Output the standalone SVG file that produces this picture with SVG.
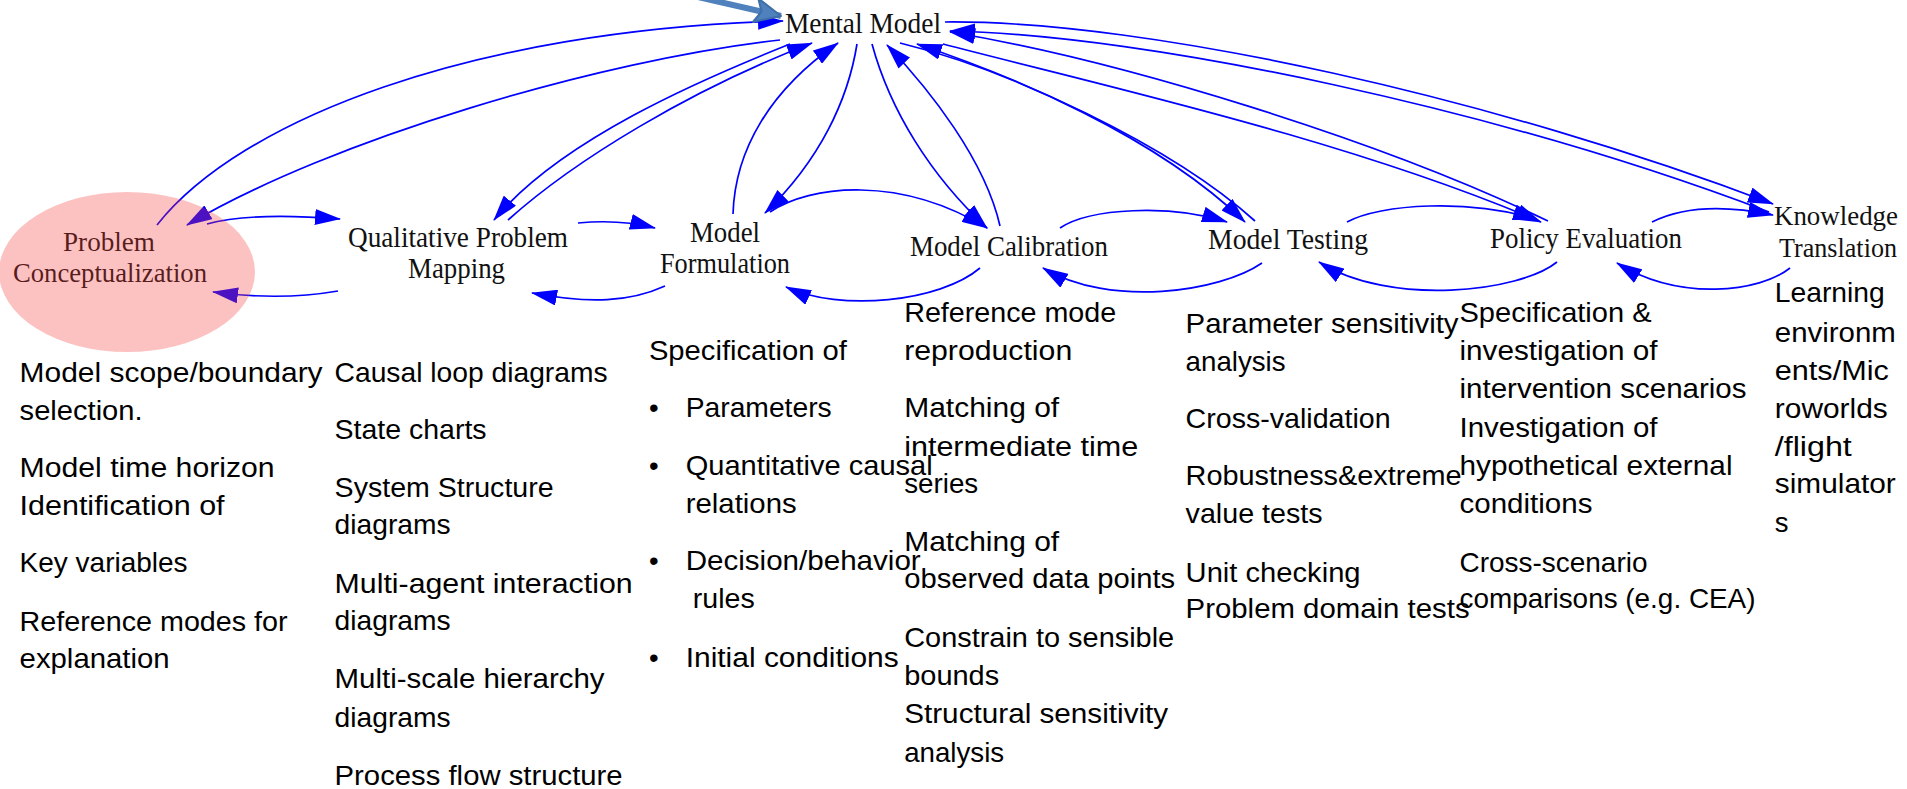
<svg xmlns="http://www.w3.org/2000/svg" width="1907" height="789" viewBox="0 0 1907 789">
  <style>
    .lbl { font-family: "Liberation Serif", "Times New Roman", serif; font-size: 30px; fill: #111; }
    .note { font-family: "Liberation Sans", Arial, sans-serif; font-size: 27.5px; fill: #000; }
    .link { fill: none; stroke: #0000FF; stroke-width: 1.7; marker-end: url(#ah); }
  </style>
  <defs>
    <marker id="ah" viewBox="0 0 26 16" refX="25" refY="8" markerWidth="26" markerHeight="16" orient="auto" markerUnits="userSpaceOnUse">
      <path d="M0,0 L26,8 L0,16 z" fill="#0000FF"/>
    </marker>
    <marker id="ptr" viewBox="0 0 30 28" refX="28" refY="14" markerWidth="30" markerHeight="28" orient="auto" markerUnits="userSpaceOnUse">
      <path d="M2,2 L28,14 L2,26 L8,14 z" fill="#4F81BD" stroke="#3F6FA8" stroke-width="2" stroke-linejoin="round"/>
    </marker>
  </defs>
  <rect width="1907" height="789" fill="#FFFFFF"/>

  <!-- links between the stages and the mental model -->
  <g id="connectors">
    <!-- Problem Conceptualization <-> Mental Model -->
    <path class="link" d="M157,225 C 240,120 470,30 783,21"/>
    <path class="link" d="M780,40 C 600,60 330,140 187,225"/>
    <!-- Qualitative Problem Mapping <-> Mental Model -->
    <path class="link" d="M790,44 C 700,80 560,140 494,220"/>
    <path class="link" d="M508,220 C 575,160 690,90 812,43"/>
    <!-- Model Formulation <-> Mental Model -->
    <path class="link" d="M857,44 C 848,100 820,160 765,213"/>
    <path class="link" d="M733,214 C 735,150 770,90 838,43"/>
    <!-- Model Calibration <-> Mental Model -->
    <path class="link" d="M872,44 C 890,110 930,175 987,228"/>
    <path class="link" d="M1000,226 C 985,160 930,90 887,45"/>
    <!-- Model Testing <-> Mental Model -->
    <path class="link" d="M900,43 C 1010,70 1160,140 1245,222"/>
    <path class="link" d="M1255,221 C 1165,140 1010,75 917,44"/>
    <!-- Policy Evaluation <-> Mental Model -->
    <path class="link" d="M943,44 C 1100,85 1350,140 1541,222"/>
    <path class="link" d="M1548,221 C 1380,140 1120,60 950,32"/>
    <!-- Knowledge Translation <-> Mental Model -->
    <path class="link" d="M945,22 C 1150,20 1500,100 1773,204"/>
    <path class="link" d="M1769,212 C 1500,110 1150,35 950,31"/>
    <!-- forward and backward links along the chain -->
    <path class="link" d="M207,224 Q 250,212 340,219"/>
    <path class="link" d="M338,291 Q 280,301 213,292"/>
    <path class="link" d="M578,223 Q 620,219 655,228"/>
    <path class="link" d="M665,286 C 630,302 590,304 532,293"/>
    <path class="link" d="M770,212 C 810,185 900,175 987,228"/>
    <path class="link" d="M980,268 C 940,302 840,312 786,287"/>
    <path class="link" d="M1060,228 C 1090,208 1170,204 1227,222"/>
    <path class="link" d="M1262,263 C 1220,292 1110,308 1043,268"/>
    <path class="link" d="M1347,222 C 1380,204 1470,198 1538,220"/>
    <path class="link" d="M1557,262 C 1520,292 1390,307 1319,262"/>
    <path class="link" d="M1652,222 C 1680,208 1720,204 1773,215"/>
    <path class="link" d="M1790,268 C 1760,292 1680,302 1617,263"/>
  </g>

  <g id="mental-model">
    <text class="lbl" x="785" y="33" textLength="156" lengthAdjust="spacingAndGlyphs">Mental Model</text>
  </g>
  <g id="qualitative-problem-mapping">
    <text class="lbl" x="348" y="247" textLength="220" lengthAdjust="spacingAndGlyphs">Qualitative Problem</text>
    <text class="lbl" x="408" y="278" textLength="97" lengthAdjust="spacingAndGlyphs">Mapping</text>
  </g>
  <g id="model-formulation">
    <text class="lbl" x="690" y="242" textLength="70" lengthAdjust="spacingAndGlyphs">Model</text>
    <text class="lbl" x="660" y="273" textLength="130" lengthAdjust="spacingAndGlyphs">Formulation</text>
  </g>
  <g id="model-calibration">
    <text class="lbl" x="910" y="256" textLength="198" lengthAdjust="spacingAndGlyphs">Model Calibration</text>
  </g>
  <g id="model-testing">
    <text class="lbl" x="1208" y="249" textLength="160" lengthAdjust="spacingAndGlyphs">Model Testing</text>
  </g>
  <g id="policy-evaluation">
    <text class="lbl" x="1490" y="248" textLength="192" lengthAdjust="spacingAndGlyphs">Policy Evaluation</text>
  </g>
  <g id="knowledge-translation">
    <text class="lbl" x="1774" y="225" style="font-size:27.5px" textLength="124" lengthAdjust="spacingAndGlyphs">Knowledge</text>
    <text class="lbl" x="1779" y="257" style="font-size:27.5px" textLength="118" lengthAdjust="spacingAndGlyphs">Translation</text>
  </g>
  <!-- translucent highlight laid over the label and the arrow ends -->
  <g id="problem-conceptualization">
    <text class="lbl" x="63" y="251" style="font-size:27.5px" textLength="92" lengthAdjust="spacingAndGlyphs">Problem</text>
    <text class="lbl" x="13" y="282" style="font-size:27.5px" textLength="194" lengthAdjust="spacingAndGlyphs">Conceptualization</text>
    <ellipse cx="127" cy="272" rx="128" ry="80" fill="#F53A3A" fill-opacity="0.31"/>
  </g>

  <!-- call-out pointer into the mental model -->
  <g id="pointer">
    <path d="M676,-8 L781,16" fill="none" stroke="#4F81BD" stroke-width="6" marker-end="url(#ptr)"/>
  </g>

  <!-- activities listed under each stage -->
  <g id="notes-conceptualization" class="note">
    <text x="19.6" y="381.7" textLength="303" lengthAdjust="spacingAndGlyphs">Model scope/boundary</text>
    <text x="19.6" y="420" textLength="123" lengthAdjust="spacingAndGlyphs">selection.</text>
    <text x="19.6" y="477.3" textLength="255" lengthAdjust="spacingAndGlyphs">Model time horizon</text>
    <text x="19.6" y="515" textLength="205" lengthAdjust="spacingAndGlyphs">Identification of</text>
    <text x="19.6" y="572.3" textLength="168" lengthAdjust="spacingAndGlyphs">Key variables</text>
    <text x="19.6" y="630.5" textLength="268" lengthAdjust="spacingAndGlyphs">Reference modes for</text>
    <text x="19.6" y="668.3" textLength="150" lengthAdjust="spacingAndGlyphs">explanation</text>
  </g>
  <g id="notes-mapping" class="note">
    <text x="334.6" y="381.7" textLength="273" lengthAdjust="spacingAndGlyphs">Causal loop diagrams</text>
    <text x="334.6" y="439" textLength="152" lengthAdjust="spacingAndGlyphs">State charts</text>
    <text x="334.6" y="496.7" textLength="219" lengthAdjust="spacingAndGlyphs">System Structure</text>
    <text x="334.6" y="534.3" textLength="116" lengthAdjust="spacingAndGlyphs">diagrams</text>
    <text x="334.6" y="592.7" textLength="298" lengthAdjust="spacingAndGlyphs">Multi-agent interaction</text>
    <text x="334.6" y="630" textLength="116" lengthAdjust="spacingAndGlyphs">diagrams</text>
    <text x="334.6" y="688.3" textLength="270" lengthAdjust="spacingAndGlyphs">Multi-scale hierarchy</text>
    <text x="334.6" y="726.7" textLength="116" lengthAdjust="spacingAndGlyphs">diagrams</text>
    <text x="334.6" y="785" textLength="288" lengthAdjust="spacingAndGlyphs">Process flow structure</text>
  </g>
  <g id="notes-formulation" class="note">
    <text x="648.9" y="360" textLength="198" lengthAdjust="spacingAndGlyphs">Specification of</text>
    <text x="649" y="417.3">•</text>
    <text x="685.7" y="417.3" textLength="146" lengthAdjust="spacingAndGlyphs">Parameters</text>
    <text x="649" y="475">•</text>
    <text x="685.7" y="475" textLength="247" lengthAdjust="spacingAndGlyphs">Quantitative causal</text>
    <text x="685.7" y="512.7" textLength="111" lengthAdjust="spacingAndGlyphs">relations</text>
    <text x="649" y="570">•</text>
    <text x="685.7" y="570" textLength="235" lengthAdjust="spacingAndGlyphs">Decision/behavior</text>
    <text x="692.8" y="608.3" textLength="62" lengthAdjust="spacingAndGlyphs">rules</text>
    <text x="649" y="666.7">•</text>
    <text x="685.7" y="666.7" textLength="213" lengthAdjust="spacingAndGlyphs">Initial conditions</text>
  </g>
  <g id="notes-calibration" class="note">
    <text x="904.2" y="321.7" textLength="212" lengthAdjust="spacingAndGlyphs">Reference mode</text>
    <text x="904.2" y="360" textLength="168" lengthAdjust="spacingAndGlyphs">reproduction</text>
    <text x="904.2" y="417.3" textLength="155" lengthAdjust="spacingAndGlyphs">Matching of</text>
    <text x="904.2" y="455.7" textLength="234" lengthAdjust="spacingAndGlyphs">intermediate time</text>
    <text x="904.2" y="493.3" textLength="74" lengthAdjust="spacingAndGlyphs">series</text>
    <text x="904.2" y="550.7" textLength="155" lengthAdjust="spacingAndGlyphs">Matching of</text>
    <text x="904.2" y="588.3" textLength="271" lengthAdjust="spacingAndGlyphs">observed data points</text>
    <text x="904.2" y="646.7" textLength="270" lengthAdjust="spacingAndGlyphs">Constrain to sensible</text>
    <text x="904.2" y="685" textLength="95" lengthAdjust="spacingAndGlyphs">bounds</text>
    <text x="904.2" y="723.3" textLength="264" lengthAdjust="spacingAndGlyphs">Structural sensitivity</text>
    <text x="904.2" y="761.7" textLength="100" lengthAdjust="spacingAndGlyphs">analysis</text>
  </g>
  <g id="notes-testing" class="note">
    <text x="1185.6" y="332.7" textLength="273" lengthAdjust="spacingAndGlyphs">Parameter sensitivity</text>
    <text x="1185.6" y="371" textLength="100" lengthAdjust="spacingAndGlyphs">analysis</text>
    <text x="1185.6" y="427.7" textLength="205" lengthAdjust="spacingAndGlyphs">Cross-validation</text>
    <text x="1185.6" y="485" textLength="276" lengthAdjust="spacingAndGlyphs">Robustness&amp;extreme</text>
    <text x="1185.6" y="523.3" textLength="137" lengthAdjust="spacingAndGlyphs">value tests</text>
    <text x="1185.6" y="581.7" textLength="175" lengthAdjust="spacingAndGlyphs">Unit checking</text>
    <text x="1185.6" y="618.3" textLength="284" lengthAdjust="spacingAndGlyphs">Problem domain tests</text>
  </g>
  <g id="notes-policy" class="note">
    <text x="1459.5" y="321.7" textLength="192" lengthAdjust="spacingAndGlyphs">Specification &amp;</text>
    <text x="1459.5" y="360" textLength="198" lengthAdjust="spacingAndGlyphs">investigation of</text>
    <text x="1459.5" y="398.3" textLength="287" lengthAdjust="spacingAndGlyphs">intervention scenarios</text>
    <text x="1459.5" y="436.7" textLength="198" lengthAdjust="spacingAndGlyphs">Investigation of</text>
    <text x="1459.5" y="475" textLength="273" lengthAdjust="spacingAndGlyphs">hypothetical external</text>
    <text x="1459.5" y="513" textLength="133" lengthAdjust="spacingAndGlyphs">conditions</text>
    <text x="1459.5" y="571.7" textLength="188" lengthAdjust="spacingAndGlyphs">Cross-scenario</text>
    <text x="1459.5" y="608.3" textLength="296" lengthAdjust="spacingAndGlyphs">comparisons (e.g. CEA)</text>
  </g>
  <g id="notes-translation" class="note">
    <text x="1774.8" y="302" textLength="110" lengthAdjust="spacingAndGlyphs">Learning</text>
    <text x="1774.8" y="341.7" textLength="121" lengthAdjust="spacingAndGlyphs">environm</text>
    <text x="1774.8" y="380" textLength="114" lengthAdjust="spacingAndGlyphs">ents/Mic</text>
    <text x="1774.8" y="418.3" textLength="113" lengthAdjust="spacingAndGlyphs">roworlds</text>
    <text x="1774.8" y="455.7" textLength="77" lengthAdjust="spacingAndGlyphs">/flight</text>
    <text x="1774.8" y="493.3" textLength="121" lengthAdjust="spacingAndGlyphs">simulator</text>
    <text x="1774.8" y="531.7">s</text>
  </g>
</svg>
